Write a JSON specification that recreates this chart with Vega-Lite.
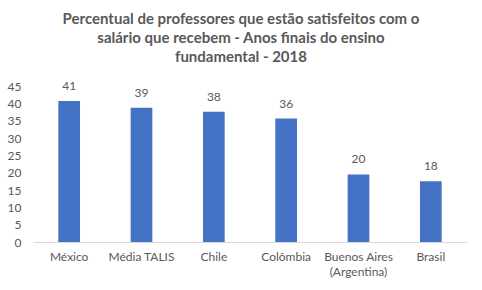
{
  "$schema": "https://vega.github.io/schema/vega-lite/v6.json",
  "width": 434,
  "height": 156,
  "autosize": {"type": "none"},
  "padding": {"left": 33, "top": 86, "right": 15, "bottom": 48},
  "background": "white",
  "title": {
    "text": ["Percentual de professores que estão satisfeitos com o", "salário que recebem - Anos finais do ensino", "fundamental - 2018"],
    "font": "Lato",
    "fontSize": 15,
    "fontWeight": "bold",
    "color": "#595959",
    "anchor": "middle",
    "dx": -9,
    "lineHeight": 19,
    "offset": 15
  },
  "data": {
    "values": [
      {"pais": "México", "valor": 40.7},
      {"pais": "Média TALIS", "valor": 38.7},
      {"pais": "Chile", "valor": 37.6},
      {"pais": "Colômbia", "valor": 35.6},
      {"pais": "Buenos Aires (Argentina)", "valor": 19.5},
      {"pais": "Brasil", "valor": 17.5}
    ]
  },
  "encoding": {
    "x": {
      "field": "pais",
      "type": "nominal",
      "sort": null,
      "scale": {"paddingInner": 0.7, "paddingOuter": 0.35},
      "axis": {
        "title": null,
        "labelAngle": 0,
        "ticks": false,
        "domainColor": "#d9d9d9",
        "labelColor": "#595959",
        "labelFont": "Lato",
        "labelFontSize": 12,
        "labelPadding": 9,
        "labelLineHeight": 15,
        "labelExpr": "datum.value == 'Buenos Aires (Argentina)' ? ['Buenos Aires', '(Argentina)'] : datum.value"
      }
    },
    "y": {
      "field": "valor",
      "type": "quantitative",
      "scale": {"domain": [0, 45], "nice": false},
      "axis": {
        "title": null,
        "values": [0, 5, 10, 15, 20, 25, 30, 35, 40, 45],
        "grid": false,
        "domain": false,
        "ticks": false,
        "labelColor": "#595959",
        "labelFont": "Lato",
        "labelFontSize": 12,
        "labelPadding": 12
      }
    }
  },
  "layer": [
    {"mark": {"type": "bar", "color": "#4472C4"}},
    {
      "mark": {"type": "text", "baseline": "bottom", "dy": -8, "color": "#595959", "font": "Lato", "fontSize": 12},
      "encoding": {"text": {"field": "valor", "type": "quantitative", "format": ".0f"}}
    }
  ],
  "config": {"view": {"stroke": null}}
}
